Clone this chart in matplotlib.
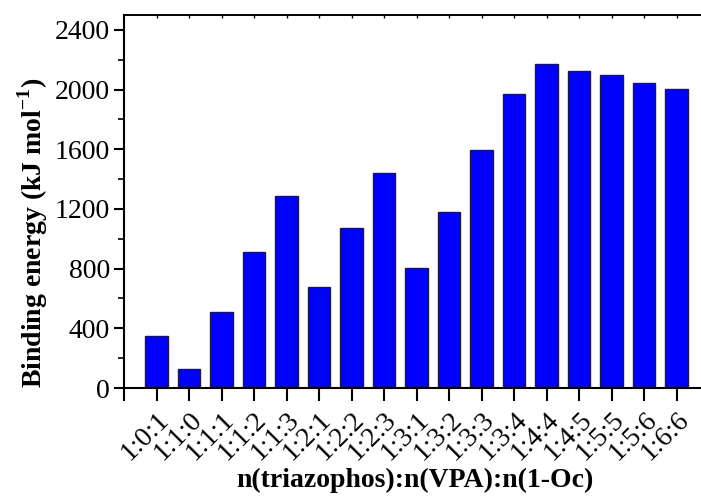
import matplotlib
matplotlib.use('Agg')
import matplotlib.pyplot as plt
from matplotlib.ticker import MultipleLocator

ratios = ['1:0:1', '1:1:0', '1:1:1', '1:1:2', '1:1:3', '1:2:1', '1:2:2', '1:2:3',
          '1:3:1', '1:3:2', '1:3:3', '1:3:4', '1:4:4', '1:4:5', '1:5:5', '1:5:6', '1:6:6']
energy = [350, 130, 511, 910, 1285, 678, 1073, 1443, 803, 1180,
          1598, 1968, 2170, 2123, 2098, 2043, 2003]

plt.rcParams['font.family'] = ['Liberation Serif', 'DejaVu Serif']
plt.rcParams['mathtext.fontset'] = 'custom'
plt.rcParams['mathtext.rm'] = 'Liberation Serif'
plt.rcParams['mathtext.bf'] = 'Liberation Serif:bold'

fig = plt.figure(figsize=(7.01, 4.97), dpi=100)
ax = fig.add_axes([124 / 701, 1 - 388 / 497, (701 - 124) / 701, (388 - 15) / 497])

x = list(range(1, len(ratios) + 1))
ax.bar(x, energy, width=0.7, color='#0000ff', edgecolor='#1a1a40', linewidth=1.0)

ax.set_xlim(0, 17.75)
ax.set_ylim(0, 2500)
ax.set_xticks([0] + x)
ax.set_xticklabels([''] + ratios, rotation=45, ha='right', rotation_mode='anchor', fontsize=20)
ax.yaxis.set_major_locator(MultipleLocator(400))
ax.yaxis.set_minor_locator(MultipleLocator(200))
ax.tick_params(axis='y', which='major', direction='out', length=7, width=1.5, labelsize=20, pad=3)
ax.tick_params(axis='y', which='minor', direction='out', length=4, width=1.2)
ax.tick_params(axis='x', which='major', direction='out', length=9, width=1.5, pad=5)

top = ax.secondary_xaxis('top')
top.set_xticks(x)
top.tick_params(direction='in', length=2, width=1, labeltop=False)
top.spines['top'].set_linewidth(1.2)

ax.spines['right'].set_visible(False)
ax.spines['left'].set_linewidth(1.5)
ax.spines['bottom'].set_linewidth(1.5)
ax.spines['top'].set_linewidth(1.2)

ax.set_xlabel('n(triazophos):n(VPA):n(1-Oc)', fontsize=20, fontweight='bold')
ax.xaxis.set_label_coords(0.504, -0.215)
ax.set_ylabel(r'Binding energy (kJ mol$^{\mathbf{-1}}$)', fontsize=20, fontweight='bold')
ax.yaxis.set_label_coords(-0.128, 0.415)

fig.savefig('out.png', dpi=100)
